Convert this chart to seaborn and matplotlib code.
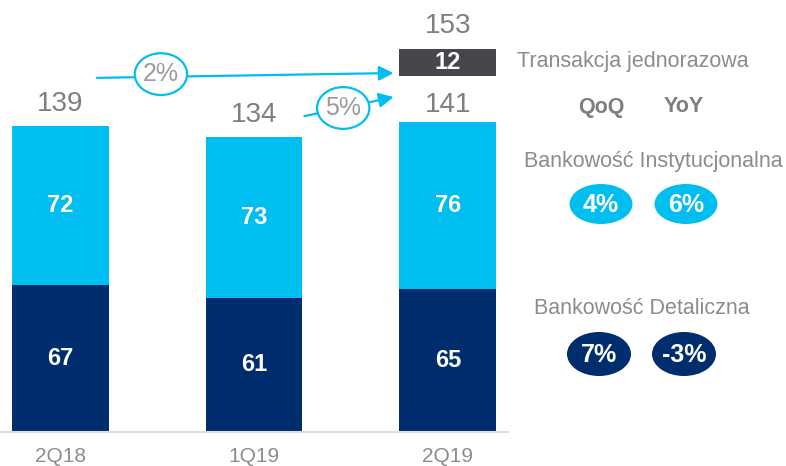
import numpy as np
import pandas as pd
import seaborn as sns
import matplotlib.pyplot as plt
from matplotlib.patches import Ellipse

# data
quarters = ['2Q18', '1Q19', '2Q19']
retail = [67, 61, 65]            # Bankowość Detaliczna
institutional = [72, 73, 76]     # Bankowość Instytucjonalna
one_off = [0, 0, 12]             # Transakcja jednorazowa
grand_total = 153
arrow_labels = ['2%', '5%']
inst_change = ['4%', '6%']       # QoQ, YoY
retail_change = ['7%', '-3%']    # QoQ, YoY

df = pd.DataFrame({'quarter': quarters, 'retail': retail, 'institutional': institutional})
df['total'] = df['retail'] + df['institutional']

LIGHT = '#00BEF0'
NAVY = '#002D6E'
DARK = '#46474A'
GREY = '#8C8C8C'
NUM_GREY = '#7F7F7F'

sns.set_style('white')
plt.rcParams['font.family'] = ['Liberation Sans', 'DejaVu Sans']

fig = plt.figure(figsize=(7.86, 4.66), dpi=100)
ax = fig.add_axes([0, 34 / 466, 508 / 786, 432 / 466])

# stacked bars: total in light blue, retail drawn on top in navy
sns.barplot(data=df, x='quarter', y='total', color=LIGHT, saturation=1,
            width=0.5, errorbar=None, linewidth=0, ax=ax)
sns.barplot(data=df, x='quarter', y='retail', color=NAVY, saturation=1,
            width=0.5, errorbar=None, linewidth=0, ax=ax)

# one-off segment floats above the last bar
gap = 21
last = len(quarters) - 1
one_off_bottom = df['total'].iloc[last] + gap
ax.bar(last, one_off[last], bottom=one_off_bottom, width=0.5, color=DARK, linewidth=0)

ax.set_xlim(-0.31, 2.31)
ax.set_ylim(0, 196.4)
ax.set_xlabel('')
ax.set_ylabel('')
ax.set_yticks([])
for s in ['top', 'right', 'left']:
    ax.spines[s].set_visible(False)
ax.spines['bottom'].set_color('#E0E0E0')
ax.spines['bottom'].set_linewidth(1.5)
ax.tick_params(axis='x', length=0, pad=11, labelsize=15, labelcolor=GREY)

# segment labels and totals
for i in range(len(quarters)):
    r, ins, tot = retail[i], institutional[i], df['total'].iloc[i]
    ax.text(i, r / 2, str(r), ha='center', va='center', color='white',
            fontsize=17, fontweight='bold')
    ax.text(i, r + ins / 2, str(ins), ha='center', va='center', color='white',
            fontsize=17, fontweight='bold')
    off = 7 if i == last else 11
    ax.annotate(str(tot), (i, tot), xytext=(0, off), textcoords='offset points',
                ha='center', va='baseline', fontsize=20, color=NUM_GREY)

ax.text(last, one_off_bottom + one_off[last] / 2, str(one_off[last]), ha='center',
        va='center', color='white', fontsize=17, fontweight='bold')
ax.annotate(str(grand_total), (last, one_off_bottom + one_off[last]), xytext=(0, 12),
            textcoords='offset points', ha='center', va='baseline', fontsize=20,
            color=NUM_GREY)

# growth arrows with ellipse badges
arrows = [((0.19, 161.0), (1.72, 163.2), (0.52, 162.7)),
          ((1.26, 143.6), (1.72, 152.3), (1.46, 147.3))]
for (start, end, mid), lab in zip(arrows, arrow_labels):
    ax.annotate('', xy=end, xytext=start,
                arrowprops=dict(arrowstyle='-|>', color=LIGHT, lw=1.6,
                                mutation_scale=22, shrinkA=0, shrinkB=0))
    ax.add_patch(Ellipse(mid, 0.27, 19, facecolor='white', edgecolor=LIGHT,
                         lw=1.6, zorder=5))
    ax.text(mid[0], mid[1], lab, ha='center', va='center', fontsize=18,
            color='#9B9B9B', zorder=6)

# right-hand panel, drawn in pixel coordinates
ov = fig.add_axes([0, 0, 1, 1])
ov.set_xlim(0, 786)
ov.set_ylim(466, 0)
ov.axis('off')

ov.text(633, 62, 'Transakcja jednorazowa', ha='center', va='center', fontsize=15.5, color=GREY)
ov.text(601, 107, 'QoQ', ha='center', va='center', fontsize=15.5, color=NUM_GREY, fontweight='bold')
ov.text(684, 107, 'YoY', ha='center', va='center', fontsize=15.5, color=NUM_GREY, fontweight='bold')
ov.text(653, 161, 'Bankowość Instytucjonalna', ha='center', va='center', fontsize=15.5, color=GREY)
ov.text(642, 309, 'Bankowość Detaliczna', ha='center', va='center', fontsize=15.5, color=GREY)

for cx, lab in zip([601, 686], inst_change):
    ov.add_patch(Ellipse((cx, 204), 63, 40, facecolor=LIGHT, edgecolor='none'))
    ov.text(cx, 205, lab, ha='center', va='center', fontsize=18, color='white', fontweight='bold')
for cx, lab in zip([599, 684], retail_change):
    ov.add_patch(Ellipse((cx, 354), 64, 44, facecolor=NAVY, edgecolor='none'))
    ov.text(cx, 355, lab, ha='center', va='center', fontsize=18, color='white', fontweight='bold')

plt.savefig('out.png', dpi=100)
